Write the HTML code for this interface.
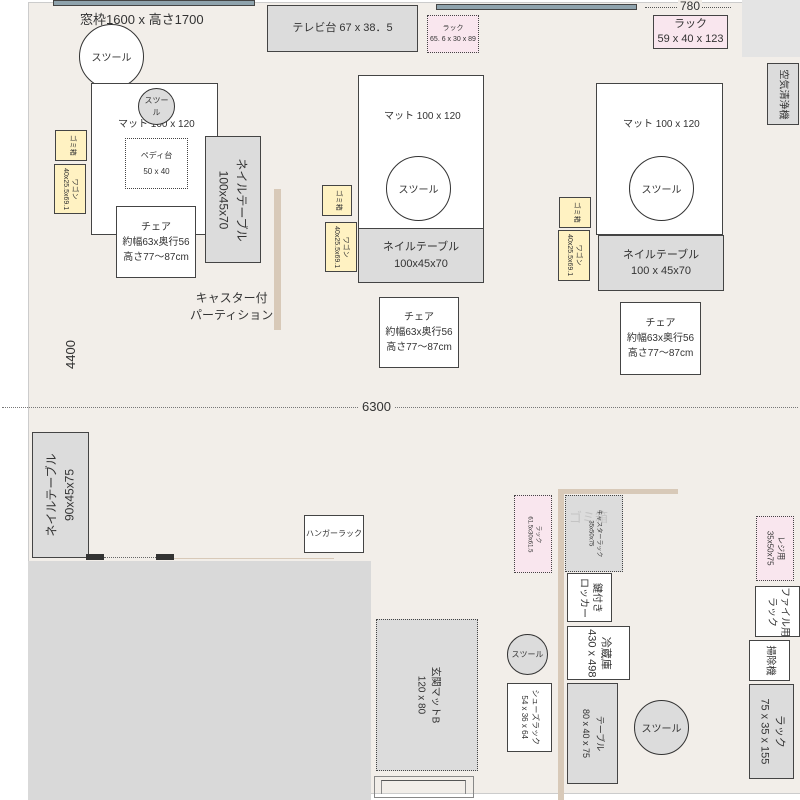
<!DOCTYPE html>
<html><head><meta charset="utf-8"><style>
*{margin:0;padding:0;box-sizing:border-box}
body{width:800px;height:800px;position:relative;background:#fff;overflow:hidden;font-family:"Liberation Sans","Noto Sans CJK JP",sans-serif;color:#333}
.a{position:absolute}
.b{position:absolute;border:1.5px solid #444;display:flex;align-items:center;justify-content:center;text-align:center;font-size:10px;line-height:1.5}
.w{background:#fff}.g{background:#dcdcdc}.y{background:#fff2c2;border-width:1.5px}.p{background:#f9e6ee}
.d{border-style:dotted}
.c{position:absolute;border-radius:50%;border:1.5px solid #333;display:flex;align-items:center;justify-content:center;font-size:10px}
.r{transform:rotate(90deg);white-space:nowrap}
.rl{transform:rotate(-90deg);white-space:nowrap}
</style></head><body>
<div class="a" style="left:28px;top:2px;width:772px;height:792px;background:#f2eee9;border-left:1.5px solid #ccc;border-top:1px solid #ccc"></div>
<div class="a" style="left:742px;top:0;width:58px;height:57px;background:#e4e4e4"></div>
<div class="a" style="left:28px;top:561px;width:343px;height:239px;background:#d9d9d9"></div>
<div class="a" style="left:371px;top:793px;width:429px;height:7px;background:#fff;border-top:1px solid #ccc"></div>

<div class="a" style="left:53px;top:0;width:202px;height:6px;background:#8fa3ad;border:1.5px solid #444"></div>
<div class="a" style="left:80px;top:9px;font-size:13px">窓枠1600 x 高さ1700</div>
<div class="b g" style="left:267px;top:5px;width:151px;height:47px;font-size:11px">テレビ台 67 x 38．5</div>
<div class="a" style="left:436px;top:4px;width:201px;height:6px;background:#8fa3ad;border:1.5px solid #444"></div>
<div class="b p d" style="left:427px;top:15px;width:52px;height:38px;font-size:7px;line-height:1.6">ラック<br>65. 6 x 30 x 89</div>
<div class="a" style="left:645px;top:7px;width:86px;border-top:1px dotted #555"></div>
<div class="a" style="left:678px;top:0px;font-size:12px;line-height:13px;background:#f2eee9;padding:0 2px">780</div>
<div class="b p" style="left:653px;top:15px;width:75px;height:34px;font-size:11px;line-height:1.4">ラック<br>59 x 40 x 123</div>
<div class="b g" style="left:767px;top:63px;width:32px;height:62px"><span class="r" style="font-size:10px">空気清浄機</span></div>

<div class="c" style="left:79px;top:24px;width:65px;height:65px;background:#fff">スツール</div>
<div class="b w" style="left:91px;top:83px;width:127px;height:152px"></div>
<div class="a" style="left:118px;top:115px;font-size:10px">マット 100 x 120</div>
<div class="c" style="left:138px;top:88px;width:37px;height:37px;background:#dcdcdc;font-size:8px;line-height:1.5;text-align:center">スツー<br>ル</div>
<div class="b w d" style="left:125px;top:138px;width:63px;height:51px;font-size:8px;line-height:2">ペディ台<br>50 x 40</div>
<div class="b y" style="left:55px;top:130px;width:32px;height:31px"><span class="r" style="font-size:7px">ゴミ箱</span></div>
<div class="b y" style="left:54px;top:164px;width:32px;height:50px"><span class="r" style="font-size:7px;line-height:1.3">ワゴン<br>40x25.5x69.1</span></div>
<div class="b g" style="left:205px;top:136px;width:56px;height:127px"><span class="r" style="font-size:12px;line-height:1.5">ネイルテーブル<br>100x45x70</span></div>
<div class="b w" style="left:116px;top:206px;width:80px;height:72px;font-size:10px">チェア<br>約幅63x奥行56<br>高さ77～87cm</div>
<div class="a" style="left:274px;top:189px;width:7px;height:141px;background:#d8c9b8"></div>
<div class="a" style="left:190px;top:290px;font-size:12px;line-height:1.4;text-align:center">キャスター付<br>パーティション</div>

<div class="b w" style="left:358px;top:75px;width:126px;height:154px"></div>
<div class="a" style="left:384px;top:107px;font-size:10px">マット 100 x 120</div>
<div class="c" style="left:386px;top:156px;width:65px;height:65px;background:#fff">スツール</div>
<div class="b g" style="left:358px;top:228px;width:126px;height:55px;font-size:11px">ネイルテーブル<br>100x45x70</div>
<div class="b y" style="left:322px;top:185px;width:30px;height:31px"><span class="r" style="font-size:7px">ゴミ箱</span></div>
<div class="b y" style="left:325px;top:222px;width:32px;height:50px"><span class="r" style="font-size:7px;line-height:1.3">ワゴン<br>40x25.5x69.1</span></div>
<div class="b w" style="left:379px;top:297px;width:80px;height:71px;font-size:10px">チェア<br>約幅63x奥行56<br>高さ77～87cm</div>

<div class="b w" style="left:596px;top:83px;width:127px;height:152px"></div>
<div class="a" style="left:623px;top:115px;font-size:10px">マット 100 x 120</div>
<div class="c" style="left:629px;top:156px;width:65px;height:65px;background:#fff">スツール</div>
<div class="b g" style="left:598px;top:235px;width:126px;height:56px;font-size:11px">ネイルテーブル<br>100 x 45x70</div>
<div class="b y" style="left:559px;top:197px;width:32px;height:31px"><span class="r" style="font-size:7px">ゴミ箱</span></div>
<div class="b y" style="left:558px;top:230px;width:32px;height:51px"><span class="r" style="font-size:7px;line-height:1.3">ワゴン<br>40x25.5x69.1</span></div>
<div class="b w" style="left:620px;top:302px;width:81px;height:73px;font-size:10px">チェア<br>約幅63x奥行56<br>高さ77～87cm</div>

<div class="a rl" style="left:56px;top:347px;font-size:13px">4400</div>
<div class="a" style="left:2px;top:407px;width:796px;border-top:1px dotted #777"></div>
<div class="a" style="left:358px;top:399px;font-size:13px;background:#f2eee9;padding:0 4px">6300</div>

<div class="b g" style="left:32px;top:432px;width:57px;height:126px"><span class="rl" style="font-size:12px;line-height:1.5">ネイルテーブル<br>90x45x75</span></div>
<div class="a" style="left:86px;top:554px;width:18px;height:6px;background:#333"></div>
<div class="a" style="left:156px;top:554px;width:18px;height:6px;background:#333"></div>
<div class="a" style="left:104px;top:557px;width:52px;border-top:1px dotted #666"></div>
<div class="a" style="left:174px;top:558px;width:160px;border-top:1px solid #d8c9b8"></div>
<div class="b w" style="left:304px;top:515px;width:60px;height:38px;font-size:8px">ハンガーラック</div>
<div class="b g d" style="left:376px;top:619px;width:102px;height:152px"><span class="r" style="font-size:10px;line-height:1.4">玄関マットB<br>120 x 80</span></div>
<div class="a" style="left:374px;top:776px;width:100px;height:22px;border:1px solid #888"></div>
<div class="a" style="left:381px;top:780px;width:85px;height:14px;border-top:1px solid #555;border-left:1px solid #888;border-right:1px solid #888"></div>

<div class="b p d" style="left:514px;top:495px;width:38px;height:78px"><span class="r" style="font-size:6px;line-height:1.4">ラック<br>61.5x30x61.5</span></div>
<div class="a" style="left:558px;top:489px;width:6px;height:311px;background:#d8c9b8"></div>
<div class="a" style="left:563px;top:489px;width:115px;height:5px;background:#d8c9b8"></div>
<div class="b g d" style="left:565px;top:495px;width:58px;height:77px;overflow:hidden"><span class="a" style="left:3px;top:12px;font-size:13px;color:#c4c4c4;white-space:nowrap">ゴミ箱</span><span class="r" style="font-size:6px;line-height:1.4;position:relative">キャスターラック<br>35x50x75</span></div>
<div class="b w" style="left:567px;top:573px;width:45px;height:49px"><span class="r" style="font-size:10px;line-height:1.3">鍵付き<br>ロッカー</span></div>
<div class="b w" style="left:567px;top:626px;width:63px;height:54px"><span class="r" style="font-size:11px;line-height:1.3">冷蔵庫<br>430 x 498</span></div>
<div class="b g" style="left:567px;top:683px;width:51px;height:101px"><span class="r" style="font-size:9px;line-height:1.5">テーブル<br>80 x 40 x 75</span></div>
<div class="c" style="left:507px;top:634px;width:41px;height:41px;background:#dcdcdc;font-size:8px">スツール</div>
<div class="b w" style="left:507px;top:683px;width:45px;height:69px"><span class="r" style="font-size:8px;line-height:1.4">シューズラック<br>54 x 36 x 64</span></div>
<div class="c" style="left:634px;top:700px;width:55px;height:55px;background:#dcdcdc;font-size:10px">スツール</div>
<div class="b p d" style="left:756px;top:516px;width:38px;height:65px"><span class="r" style="font-size:8px;line-height:1.4">レジ用<br>35x50x75</span></div>
<div class="b w" style="left:755px;top:586px;width:45px;height:51px"><span class="r" style="font-size:10px;line-height:1.3">ファイル用<br>ラック</span></div>
<div class="b w" style="left:749px;top:640px;width:41px;height:41px"><span class="r" style="font-size:10px">掃除機</span></div>
<div class="b g" style="left:749px;top:684px;width:45px;height:95px"><span class="r" style="font-size:11px;line-height:1.4">ラック<br>75 x 35 x 155</span></div>
</body></html>
